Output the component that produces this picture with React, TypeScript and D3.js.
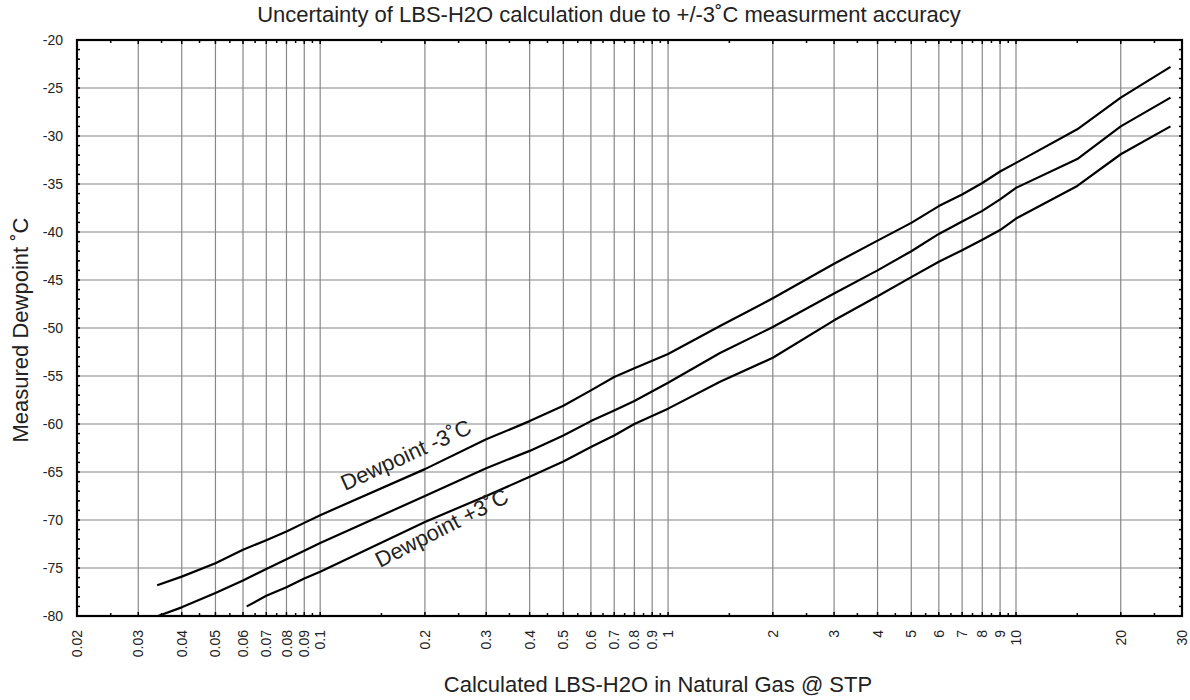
import React, { useEffect, useRef } from 'react';
import * as d3 from 'd3';

// values (x = LBS-H2O, y = dewpoint degC)
const upperX = [0.034, 0.04, 0.05, 0.06, 0.07, 0.08, 0.09, 0.1, 0.2, 0.3, 0.4, 0.5, 0.6, 0.7, 0.8, 1, 1.41, 2, 3, 4, 5, 6, 7, 8, 9, 10, 15, 20, 27.8];
const upperY = [-76.8, -75.9, -74.5, -73.1, -72.1, -71.2, -70.3, -69.5, -64.7, -61.6, -59.7, -58.1, -56.5, -55.1, -54.2, -52.7, -49.8, -46.9, -43.3, -40.9, -39.05, -37.3, -36.1, -34.9, -33.7, -32.8, -29.3, -26.0, -22.8];

const middleX = [0.0342, 0.04, 0.05, 0.06, 0.07, 0.08, 0.09, 0.1, 0.2, 0.3, 0.4, 0.5, 0.6, 0.7, 0.8, 1, 1.41, 2, 3, 4, 5, 6, 7, 8, 9, 10, 15, 20, 27.8];
const middleY = [-80, -79.1, -77.6, -76.3, -75.1, -74.1, -73.2, -72.4, -67.5, -64.6, -62.8, -61.2, -59.7, -58.6, -57.6, -55.7, -52.6, -49.9, -46.4, -44.0, -42.0, -40.2, -38.9, -37.8, -36.6, -35.4, -32.4, -29.0, -26.0];

const lowerX = [0.0615, 0.07, 0.08, 0.09, 0.1, 0.2, 0.3, 0.4, 0.5, 0.6, 0.7, 0.8, 1, 1.41, 2, 3, 4, 5, 6, 7, 8, 9, 10, 15, 20, 27.8];
const lowerY = [-79.0, -77.9, -77.0, -76.1, -75.4, -70.2, -67.5, -65.5, -63.9, -62.4, -61.2, -60.0, -58.4, -55.6, -53.1, -49.2, -46.7, -44.7, -43.1, -41.9, -40.8, -39.8, -38.6, -35.2, -31.9, -29.0];

const xTicks = [0.02, 0.03, 0.04, 0.05, 0.06, 0.07, 0.08, 0.09, 0.1, 0.2, 0.3, 0.4, 0.5, 0.6, 0.7, 0.8, 0.9, 1, 2, 3, 4, 5, 6, 7, 8, 9, 10, 20, 30];
const xMinor = [0.025, 0.035, 0.045, 0.055, 0.065, 0.075, 0.085, 0.095, 0.15, 0.25, 0.35, 0.45, 0.55, 0.65, 0.75, 0.85, 0.95, 1.5, 2.5, 3.5, 4.5, 5.5, 6.5, 7.5, 8.5, 9.5, 15, 25];
const yTicks = [-20, -25, -30, -35, -40, -45, -50, -55, -60, -65, -70, -75, -80];

const W = 1190;
const H = 700;
const FONT = "'Liberation Sans', Arial, Helvetica, sans-serif";

const App = () => {
  const svgRef = useRef(null);

  useEffect(() => {
    const svg = d3.select(svgRef.current);
    svg.selectAll('*').remove();

    const left = 77, right = 1182, top = 40, bottom = 616;
    const x = d3.scaleLog().domain([0.02, 30]).range([left, right]);
    const y = d3.scaleLinear().domain([-80, -20]).range([bottom, top]);

    svg.append('rect').attr('width', W).attr('height', H).attr('fill', '#fff');

    // grid
    const grid = svg.append('g').attr('stroke', '#888').attr('stroke-width', 1.2);
    grid.selectAll('line.v')
      .data(xTicks.slice(1, -1))
      .enter()
      .append('line')
      .attr('x1', (d) => x(d)).attr('x2', (d) => x(d))
      .attr('y1', top).attr('y2', bottom);
    grid.selectAll('line.h')
      .data(yTicks.slice(1, -1))
      .enter()
      .append('line')
      .attr('x1', left).attr('x2', right)
      .attr('y1', (d) => y(d)).attr('y2', (d) => y(d));

    // tick marks (inside, top/bottom/left/right)
    const ticks = svg.append('g').attr('stroke', '#000').attr('stroke-width', 1.5);
    const xt = xTicks.map((v) => ({ v, len: 4 })).concat(xMinor.map((v) => ({ v, len: 3 })));
    xt.forEach((t) => {
      ticks.append('line').attr('x1', x(t.v)).attr('x2', x(t.v)).attr('y1', bottom).attr('y2', bottom - t.len);
      ticks.append('line').attr('x1', x(t.v)).attr('x2', x(t.v)).attr('y1', top).attr('y2', top + t.len);
    });
    d3.range(-80, -19, 1).forEach((v) => {
      ticks.append('line').attr('x1', left).attr('x2', left + 3).attr('y1', y(v)).attr('y2', y(v));
      ticks.append('line').attr('x1', right).attr('x2', right - 3).attr('y1', y(v)).attr('y2', y(v));
    });

    // frame
    svg.append('rect')
      .attr('x', left).attr('y', top)
      .attr('width', right - left).attr('height', bottom - top)
      .attr('fill', 'none').attr('stroke', '#000').attr('stroke-width', 2.2);

    // curves
    const line = d3.line<[number, number]>().x((d) => x(d[0])).y((d) => y(d[1]));
    [[upperX, upperY], [middleX, middleY], [lowerX, lowerY]].forEach(([xs, ys]) => {
      svg.append('path')
        .datum(xs.map((v, i) => [v, ys[i]] as [number, number]))
        .attr('d', line)
        .attr('fill', 'none')
        .attr('stroke', '#000')
        .attr('stroke-width', 2.2)
        .attr('stroke-linejoin', 'round');
    });

    // y tick labels
    svg.append('g')
      .selectAll('text')
      .data(yTicks)
      .enter()
      .append('text')
      .attr('x', 63)
      .attr('y', (d) => y(d))
      .attr('dy', '0.36em')
      .attr('text-anchor', 'end')
      .attr('font-family', FONT)
      .attr('font-size', 14)
      .attr('fill', '#222')
      .text((d) => d);

    // x tick labels, rotated
    svg.append('g')
      .selectAll('text')
      .data(xTicks)
      .enter()
      .append('text')
      .attr('transform', (d) => `translate(${x(d)},630) rotate(-90)`)
      .attr('dy', '0.36em')
      .attr('text-anchor', 'end')
      .attr('font-family', FONT)
      .attr('font-size', 14)
      .attr('fill', '#222')
      .text((d) => String(d));

    // titles
    svg.append('text')
      .attr('x', 609).attr('y', 22)
      .attr('text-anchor', 'middle')
      .attr('font-family', FONT).attr('font-size', 22).attr('fill', '#222')
      .text('Uncertainty of LBS-H2O calculation due to +/-3˚C measurment accuracy');

    svg.append('text')
      .attr('x', 658).attr('y', 692)
      .attr('text-anchor', 'middle')
      .attr('font-family', FONT).attr('font-size', 22).attr('fill', '#222')
      .text('Calculated LBS-H2O in Natural Gas @ STP');

    svg.append('text')
      .attr('transform', 'translate(28,330) rotate(-90)')
      .attr('text-anchor', 'middle')
      .attr('font-family', FONT).attr('font-size', 22).attr('fill', '#222')
      .text('Measured Dewpoint ˚C');

    // curve labels
    svg.append('text')
      .attr('transform', 'translate(345,491) rotate(-24.5)')
      .attr('font-family', FONT).attr('font-size', 22).attr('fill', '#222')
      .text('Dewpoint -3˚C');

    svg.append('text')
      .attr('transform', 'translate(380,568) rotate(-27)')
      .attr('font-family', FONT).attr('font-size', 22).attr('fill', '#222')
      .text('Dewpoint +3˚C');
  }, []);

  return (
    <div style={{ position: 'absolute', left: 0, top: 0 }}>
      <svg ref={svgRef} width={W} height={H} />
    </div>
  );
};

export default App;
